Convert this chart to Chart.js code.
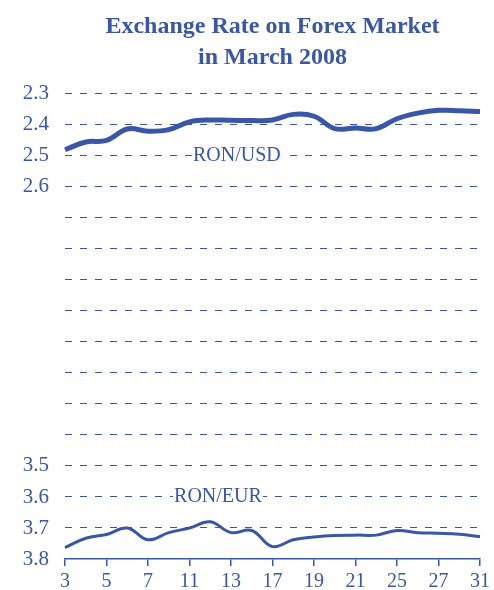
<!DOCTYPE html>
<html>
<head>
<meta charset="utf-8">
<script src="https://cdn.jsdelivr.net/npm/chart.js@4.4.1/dist/chart.umd.min.js"></script>
<style>
  html, body { margin: 0; padding: 0; background: #ffffff; }
  #wrap { width: 494px; height: 590px; position: relative; }
</style>
</head>
<body>
<div id="wrap"><canvas id="c" width="494" height="590"></canvas></div>
<script>
// Trading days of March 2008
const days = ['3','4','5','6','7','10','11','12','13','14','17','18','19','20','21','24','25','26','27','28','31'];
// RON per USD
const ronUsd = [2.480, 2.455, 2.450, 2.413, 2.420, 2.415, 2.390, 2.384, 2.385, 2.386, 2.384, 2.366, 2.372, 2.412, 2.410, 2.412, 2.380, 2.362, 2.353, 2.354, 2.357];
// RON per EUR
const ronEur = [3.763, 3.733, 3.721, 3.700, 3.738, 3.715, 3.700, 3.680, 3.715, 3.708, 3.760, 3.738, 3.729, 3.724, 3.723, 3.723, 3.708, 3.715, 3.717, 3.720, 3.728];
// y tick labels shown (the axis is broken between 2.6 and 3.5)
const yTickLabels = ['2.3', '2.4', '2.5', '2.6', '3.5', '3.6', '3.7', '3.8'];
const seriesNames = ['RON/USD', 'RON/EUR'];
// label anchors: [category position, value]
const seriesLabelAnchors = [[8.28, 2.5], [7.37, 3.6]];

const BLUE = '#3a56a6';
const SERIF = '"Liberation Serif", "Times New Roman", serif';

const seriesLabels = {
  id: 'seriesLabels',
  afterDatasetsDraw(chart) {
    const ctx = chart.ctx;
    const xs = chart.scales.x, ys = chart.scales.y;
    ctx.save();
    ctx.font = '20px ' + SERIF;
    ctx.textAlign = 'center';
    ctx.textBaseline = 'middle';
    seriesNames.forEach((name, i) => {
      const [cx, v] = seriesLabelAnchors[i];
      const x = xs.getPixelForValue(cx);
      const y = ys.getPixelForValue(v);
      const w = ctx.measureText(name).width;
      ctx.fillStyle = '#ffffff';
      ctx.fillRect(x - w / 2 - 1, y - 10, w + 2, 20);
      ctx.fillStyle = BLUE;
      ctx.fillText(name, x, y);
    });
    ctx.restore();
  }
};

new Chart(document.getElementById('c'), {
  type: 'line',
  data: {
    labels: days,
    datasets: [
      { label: seriesNames[0], data: ronUsd, borderColor: BLUE, borderWidth: 5, pointRadius: 0, tension: 0.4, fill: false },
      { label: seriesNames[1], data: ronEur, borderColor: BLUE, borderWidth: 3, pointRadius: 0, tension: 0.4, fill: false }
    ]
  },
  options: {
    responsive: false,
    animation: false,
    layout: { padding: { left: 0, right: 9, top: 0, bottom: 0 } },
    plugins: {
      legend: { display: false },
      tooltip: { enabled: false },
      title: {
        display: true,
        fullSize: false,
        text: ['Exchange Rate on Forex Market', 'in March 2008'],
        color: BLUE,
        font: { family: SERIF, size: 24, weight: 'bold', lineHeight: 1.29 },
        padding: { top: 11, bottom: 21 }
      }
    },
    scales: {
      x: {
        type: 'category',
        offset: false,
        border: { display: true, color: BLUE, width: 1.5 },
        grid: {
          drawOnChartArea: false,
          drawTicks: true,
          tickLength: 7,
          color: (c) => (c.index % 2 === 0 ? BLUE : 'rgba(0,0,0,0)'),
          lineWidth: 1.5
        },
        ticks: {
          autoSkip: false,
          maxRotation: 0,
          color: BLUE,
          padding: 4,
          font: { family: SERIF, size: 20 },
          callback: function (val, idx) { return idx % 2 === 0 ? days[idx] : ''; }
        },
        afterFit: (s) => { s.height = 31; }
      },
      y: {
        reverse: true,
        min: 2.3,
        max: 3.8,
        border: { display: false, dash: [7, 8] },
        grid: {
          drawTicks: false,
          color: (c) => (c.tick && Math.abs(c.tick.value - 3.8) < 1e-6 ? 'rgba(0,0,0,0)' : BLUE),
          lineWidth: 1
        },
        ticks: {
          stepSize: 0.1,
          color: BLUE,
          padding: 16,
          font: { family: SERIF, size: 21 },
          callback: function (v) {
            const s = Number(v).toFixed(1);
            return yTickLabels.includes(s) ? s : '';
          }
        },
        afterFit: (s) => { s.width = 65; }
      }
    }
  },
  plugins: [seriesLabels]
});
</script>
</body>
</html>
